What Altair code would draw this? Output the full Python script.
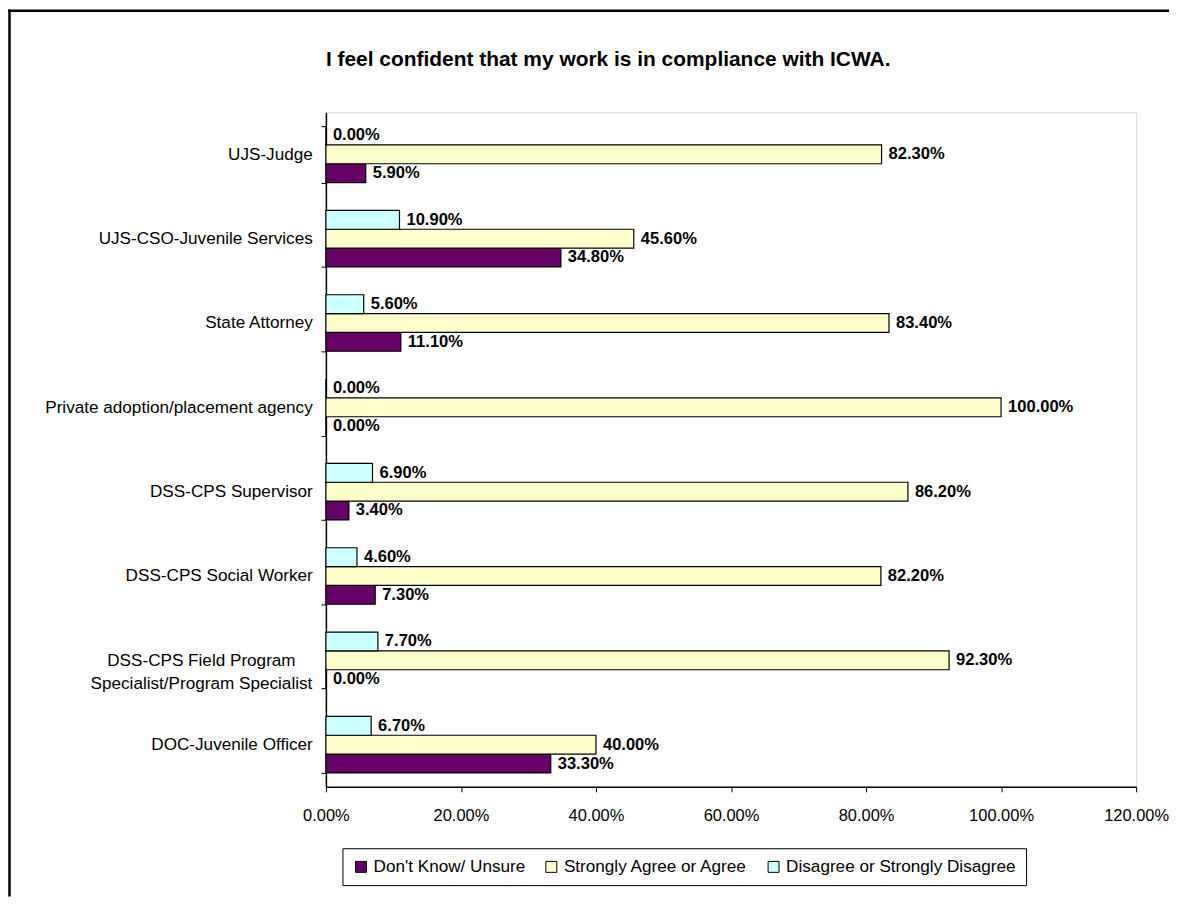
import altair as alt
import pandas as pd

TITLE = "I feel confident that my work is in compliance with ICWA."

CATEGORIES = [
    "UJS-Judge",
    "UJS-CSO-Juvenile Services",
    "State Attorney",
    "Private adoption/placement agency",
    "DSS-CPS Supervisor",
    "DSS-CPS Social Worker",
    "DSS-CPS Field Program Specialist/Program Specialist",
    "DOC-Juvenile Officer",
]
SERIES = ["Don't Know/ Unsure", "Strongly Agree or Agree", "Disagree or Strongly Disagree"]
COLORS = ["#660066", "#FFFFCC", "#CCFFFF"]

DONT_KNOW = [0.059, 0.348, 0.111, 0.0, 0.034, 0.073, 0.0, 0.333]
AGREE = [0.823, 0.456, 0.834, 1.0, 0.862, 0.822, 0.923, 0.400]
DISAGREE = [0.0, 0.109, 0.056, 0.0, 0.069, 0.046, 0.077, 0.067]

X_TICKS = [0.0, 0.2, 0.4, 0.6, 0.8, 1.0, 1.2]

rows = []
for i, cat in enumerate(CATEGORIES):
    for name, vals in zip(SERIES, [DONT_KNOW, AGREE, DISAGREE]):
        rows.append({"category": cat, "series": name, "value": vals[i]})
df = pd.DataFrame(rows)

FONT = "Liberation Sans"
W, H = 813, 677
PAD_L, PAD_T, PAD_R, PAD_B = 319, 103, 33, 110

LONG = "DSS-CPS Field Program Specialist/Program Specialist"
label_expr = (
    f"datum.label == '{LONG}' ? "
    "['DSS-CPS Field Program', 'Specialist/Program Specialist'] : datum.label"
)
test = f"datum.value == '{LONG}'"

y_enc = alt.Y(
    "category:N",
    sort=CATEGORIES,
    scale=alt.Scale(paddingInner=0.33, paddingOuter=0.165),
    axis=alt.Axis(
        title=None,
        tickBand="extent",
        labelFont=FONT,
        labelFontSize=17.2,
        labelColor="black",
        labelAlign={"condition": {"test": test, "value": "center"}, "value": "right"},
        labelPadding={"condition": {"test": test, "value": 120.4}, "value": 8.7},
        labelLimit=500,
        labelLineHeight=23,
        labelExpr=label_expr,
        tickColor="black",
        tickSize=5,
        tickWidth=1,
        domainColor="black",
        domainWidth=1.5,
    ),
)
y_off = alt.YOffset("series:N", sort=[SERIES[2], SERIES[1], SERIES[0]])
x_enc = alt.X(
    "value:Q",
    scale=alt.Scale(domain=[0, 1.2], nice=False),
    axis=alt.Axis(
        title=None,
        values=X_TICKS,
        format=".2%",
        grid=False,
        labelFont=FONT,
        labelFontSize=16.5,
        labelColor="black",
        labelPadding=15.4,
        labelFlush=False,
        labelOverlap=False,
        tickColor="black",
        tickSize=5,
        domainColor="black",
        domainWidth=1.5,
    ),
)

bars = alt.Chart(df).mark_bar(stroke="black", strokeWidth=1.2).encode(
    x=x_enc,
    y=y_enc,
    yOffset=y_off,
    color=alt.Color(
        "series:N",
        scale=alt.Scale(domain=SERIES, range=COLORS),
        legend=alt.Legend(
            title=None,
            orient="none",
            legendX=16.6,
            legendY=738.6,
            direction="horizontal",
            strokeColor="black",
            padding=10,
            symbolType="square",
            symbolSize=121,
            symbolStrokeColor="black",
            symbolStrokeWidth=1,
            symbolOpacity=1,
            labelFont=FONT,
            labelFontSize=17.2,
            labelColor="black",
            labelOffset=4,
            columnPadding=17,
            labelLimit=500,
        ),
    ),
)

labels = alt.Chart(df).transform_calculate(
    lbl="format(datum.value, '.2%')"
).mark_text(
    align="left", baseline="middle", dx=7, font=FONT, fontSize=16.6,
    fontWeight="bold", color="black"
).encode(x="value:Q", y=alt.Y("category:N", sort=CATEGORIES), yOffset=y_off, text="lbl:N")

tdf = pd.DataFrame({"t": [TITLE]})
title = alt.Chart(tdf).mark_text(
    align="left", baseline="alphabetic", font=FONT, fontSize=21,
    fontWeight="bold", color="black"
).encode(x=alt.value(0), y=alt.value(-46.7), text="t:N")

frame_left = alt.Chart(tdf).mark_rule(color="black", strokeWidth=2.5).encode(
    x=alt.value(-PAD_L + 1.5), y=alt.value(-PAD_T), y2=alt.value(H + PAD_B)
)
frame_top = alt.Chart(tdf).mark_rule(color="black", strokeWidth=2.5).encode(
    y=alt.value(-PAD_T + 1.2), x=alt.value(-PAD_L), x2=alt.value(W + PAD_R)
)

chart = alt.layer(bars, labels, title, frame_left, frame_top).properties(
    width=W,
    height=H,
    padding={"left": PAD_L, "top": PAD_T, "right": PAD_R, "bottom": PAD_B},
    autosize=alt.AutoSizeParams(type="none"),
    background="white",
).configure_view(stroke="#808080", strokeWidth=2).configure(font=FONT)

chart.save("out.html", embed_options={"renderer": "svg", "actions": False})
